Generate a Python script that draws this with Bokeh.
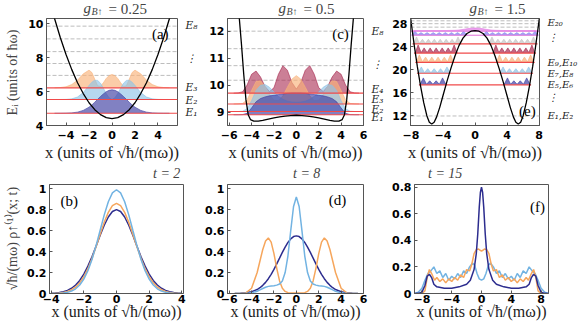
import math
from bokeh.plotting import figure
from bokeh.models import Range1d, FixedTicker, Label, Legend, LegendItem, LinearAxis
from bokeh.layouts import column, row
from bokeh.embed import file_html
from bokeh.resources import INLINE

# ------------------------------------------------------------------ data
# (a) g = 0.25
a_pot_x = [-6.0, -5.5, -5.0, -4.5, -4.0, -3.5, -3.0, -2.5, -2.0, -1.5, -1.0, -0.5, 0.0,
           0.5, 1.0, 1.5, 2.0, 2.5, 3.0, 3.5, 4.0, 4.5, 5.0, 5.5, 6.0]
a_pot_y = [12.9, 11.54, 10.3, 9.18, 8.18, 7.29, 6.52, 5.88, 5.34, 4.93, 4.64, 4.46, 4.4,
           4.46, 4.64, 4.93, 5.34, 5.88, 6.52, 7.29, 8.18, 9.18, 10.3, 11.54, 12.9]
a_levels = [4.72, 5.53, 6.22]
a_dashed = [6.95, 7.65, 8.35, 9.1, 9.85]
a_x = [-5.0, -4.5, -4.0, -3.5, -3.0, -2.5, -2.0, -1.75, -1.5, -1.25, -1.0, -0.75, -0.5, -0.25, 0.0,
       0.25, 0.5, 0.75, 1.0, 1.25, 1.5, 1.75, 2.0, 2.5, 3.0, 3.5, 4.0, 4.5, 5.0]
a_d1 = [0, 0.001, 0.006, 0.023, 0.067, 0.17, 0.36, 0.49, 0.65, 0.82, 0.99, 1.14, 1.27, 1.35, 1.38,
        1.35, 1.27, 1.14, 0.99, 0.82, 0.65, 0.49, 0.36, 0.17, 0.067, 0.023, 0.006, 0.001, 0]
a_d2 = [0, 0.001, 0.007, 0.038, 0.146, 0.41, 0.83, 1.02, 1.14, 1.12, 0.96, 0.67, 0.35, 0.097, 0,
        0.097, 0.35, 0.67, 0.96, 1.12, 1.14, 1.02, 0.83, 0.41, 0.146, 0.038, 0.007, 0.001, 0]
a_d3 = [0, 0.015, 0.06, 0.19, 0.45, 0.82, 1.04, 0.9, 0.5, 0.12, 0.08, 0.3, 0.55, 0.72, 0.78,
        0.72, 0.55, 0.3, 0.08, 0.12, 0.5, 0.9, 1.04, 0.82, 0.45, 0.19, 0.06, 0.015, 0]
a_lab_y = [9.89, 8.0, 6.24, 5.53, 4.77]
a_lab = ["E₈", "⋮", "E₃", "E₂", "E₁"]

# (c) g = 0.5
c_pot_x = [-5.3, -5.1, -4.9, -4.7, -4.5, -4.3, -4.1, -3.8, -3.4, -3.0, -2.5, -2.0, -1.5, -1.0, -0.5, 0.0,
           0.5, 1.0, 1.5, 2.0, 2.5, 3.0, 3.4, 3.8, 4.1, 4.3, 4.5, 4.7, 4.9, 5.1, 5.3]
c_pot_y = [13.5, 12.5, 11.5, 10.4, 9.45, 8.9, 8.72, 8.66, 8.66, 8.69, 8.74, 8.78, 8.82, 8.85, 8.87, 8.88,
           8.87, 8.85, 8.82, 8.78, 8.74, 8.69, 8.66, 8.66, 8.72, 8.9, 9.45, 10.4, 11.5, 12.5, 13.5]
c_levels = [8.9, 9.02, 9.3, 9.7]
c_dashed = [10.18, 10.72, 11.35, 12.0]
c_x = [-5.6, -5.2, -4.8, -4.4, -4.0, -3.6, -3.2, -2.8, -2.4, -2.0, -1.6, -1.2, -0.8, -0.4, 0.0,
       0.4, 0.8, 1.2, 1.6, 2.0, 2.4, 2.8, 3.2, 3.6, 4.0, 4.4, 4.8, 5.2, 5.6]
c_d1 = [0, 0, 0.005, 0.05, 0.25, 0.48, 0.6, 0.66, 0.7, 0.72, 0.75, 0.77, 0.79, 0.8, 0.8,
        0.8, 0.79, 0.77, 0.75, 0.72, 0.7, 0.66, 0.6, 0.48, 0.25, 0.05, 0.005, 0, 0]
c_d2 = [0, 0, 0.01, 0.1, 0.4, 0.78, 0.97, 1.0, 0.9, 0.72, 0.56, 0.45, 0.38, 0.35, 0.34,
        0.35, 0.38, 0.45, 0.56, 0.72, 0.9, 1.0, 0.97, 0.78, 0.4, 0.1, 0.01, 0, 0]
c_d3 = [0, 0.005, 0.02, 0.15, 0.5, 0.83, 0.86, 0.65, 0.35, 0.14, 0.12, 0.3, 0.62, 0.92, 1.05,
        0.92, 0.62, 0.3, 0.12, 0.14, 0.35, 0.65, 0.86, 0.83, 0.5, 0.15, 0.02, 0.005, 0]
c_d4 = [0, 0.01, 0.05, 0.3, 0.7, 0.82, 0.6, 0.25, 0.06, 0.2, 0.7, 1.02, 0.85, 0.4, 0.15,
        0.4, 0.85, 1.02, 0.7, 0.2, 0.06, 0.25, 0.6, 0.82, 0.7, 0.3, 0.05, 0.01, 0]
c_lab_y = [12.0, 10.8, 9.84, 9.48, 9.13, 8.8]
c_lab = ["E₈", "⋮", "E₄", "E₃", "E₂", "E₁"]

# (e) g = 1.5
e_pot_x = [-8.1, -8.0, -7.6, -7.2, -6.8, -6.4, -6.0, -5.7, -5.4, -5.1, -4.8, -4.4, -4.0, -3.5, -3.0, -2.5,
           -2.0, -1.5, -1.0, -0.5, 0.0, 0.5, 1.0, 1.5, 2.0, 2.5, 3.0, 3.5, 4.0, 4.4, 4.8, 5.1, 5.4, 5.7,
           6.0, 6.4, 6.8, 7.2, 7.6, 8.0, 8.1]
e_pot_y = [29.6, 28.6, 24.4, 20.6, 17.2, 14.3, 12.0, 10.9, 10.6, 10.9, 11.8, 13.5, 15.5, 18.0, 20.3, 22.4,
           24.2, 25.5, 26.3, 26.7, 26.8, 26.7, 26.3, 25.5, 24.2, 22.4, 20.3, 18.0, 15.5, 13.5, 11.8, 10.9,
           10.6, 10.9, 12.0, 14.3, 17.2, 20.6, 24.4, 28.6, 29.6]
e_dashed = [12.0, 15.0, 27.4, 28.0, 28.5]
e_levels = [17.4, 19.4, 21.3, 22.9, 24.5, 26.0, 26.7]
e_line_x0 = [-7.0, -7.25, -7.45, -7.6, -7.8, -7.9, -8.0]
e_line_x1 = [7.0, 7.25, 7.45, 7.6, 7.8, 7.9, 8.0]
# left-well density profiles (the right well is their mirror image)
e_b1_x = [-6.95, -6.85, -6.45, -6.05, -5.65, -5.25, -4.85, -4.45, -4.05, -3.65, -3.55]
e_b1_h = [0, 0.1, 1.2, 0.1, 0.7, 0.1, 0.7, 0.1, 1.2, 0.1, 0]
e_b2_x = [-7.2, -7.1, -6.7, -6.3, -5.9, -5.5, -5.1, -4.7, -4.3, -3.9, -3.5, -3.1, -3.0]
e_b2_h = [0, 0.1, 1.1, 0.1, 0.8, 0.1, 0.8, 0.1, 0.8, 0.1, 1.1, 0.1, 0]
e_b3_x = [-7.4, -7.3, -6.95, -6.56, -6.17, -5.78, -5.39, -5.0, -4.61, -4.22, -3.83, -3.44, -3.05, -2.7, -2.6]
e_b3_h = [0, 0.1, 1.3, 0.1, 0.9, 0.1, 0.9, 0.1, 0.9, 0.1, 0.9, 0.1, 1.3, 0.1, 0]
e_b4_x = [-7.55, -7.45, -7.1, -6.72, -6.35, -5.98, -5.6, -5.22, -4.85, -4.48, -4.1, -3.72, -3.35, -2.98,
          -2.6, -2.25, -2.15]
e_b4_h = [0, 0.1, 1.4, 0.1, 0.9, 0.1, 0.9, 0.1, 0.9, 0.1, 0.9, 0.1, 0.9, 0.1, 1.4, 0.1, 0]
e_b5_x = [-7.75, -7.65, -7.3, -6.93, -6.56, -6.19, -5.82, -5.45, -5.08, -4.71, -4.34, -3.97, -3.6, -3.23,
          -2.86, -2.49, -2.12, -1.75, -1.65]
e_b5_h = [0, 0.1, 1.2, 0.1, 0.8, 0.1, 0.8, 0.1, 0.8, 0.1, 0.8, 0.1, 0.8, 0.1, 0.8, 0.1, 1.2, 0.1, 0]
e_b6_x = [-7.9, -7.85, -7.5, -7.12, -6.74, -6.36, -5.98, -5.6, -5.22, -4.84, -4.46, -4.08, -3.7, -3.32,
          -2.94, -2.56, -2.18, -1.8, -1.42, -1.05, -0.95]
e_b6_h = [0, 0.1, 0.7, 0.1, 0.45, 0.1, 0.45, 0.1, 0.45, 0.1, 0.45, 0.1, 0.45, 0.1, 0.45, 0.1, 0.45, 0.1,
          0.7, 0.1, 0]
e_b7_x = [-7.9, -7.5, -6.5, -5.5, -4.5, -3.5, -2.5, -2.0, -1.5, -1.0, -0.5, 0.0]
e_b7_h = [0, 0.12, 0.1, 0.12, 0.1, 0.12, 0.15, 0.2, 0.3, 0.42, 0.52, 0.55]
e_lab_y = [28.55, 25.6, 21.29, 19.37, 17.53, 15.14, 12.0]
e_lab = ["E₂₀", "⋮", "E₉,E₁₀", "E₇,E₈", "E₅,E₆", "⋮", "E₁,E₂"]

# (b) g = 0.25 dynamics
b_x = [-4.0, -3.75, -3.5, -3.25, -3.0, -2.75, -2.5, -2.25, -2.0, -1.75, -1.5, -1.25, -1.0, -0.75, -0.5,
       -0.25, 0.0, 0.25, 0.5, 0.75, 1.0, 1.25, 1.5, 1.75, 2.0, 2.25, 2.5, 2.75, 3.0, 3.25, 3.5, 3.75, 4.0]
b_t2 = [0.002, 0.005, 0.009, 0.017, 0.03, 0.05, 0.081, 0.125, 0.185, 0.261, 0.351, 0.451, 0.555, 0.651,
        0.73, 0.782, 0.8, 0.782, 0.73, 0.651, 0.555, 0.451, 0.351, 0.261, 0.185, 0.125, 0.081, 0.05, 0.03,
        0.017, 0.009, 0.005, 0.002]
b_t8 = [0.001, 0.002, 0.005, 0.01, 0.02, 0.036, 0.062, 0.102, 0.16, 0.237, 0.334, 0.446, 0.565, 0.679,
        0.774, 0.838, 0.86, 0.838, 0.774, 0.679, 0.565, 0.446, 0.334, 0.237, 0.16, 0.102, 0.062, 0.036,
        0.02, 0.01, 0.005, 0.002, 0.001]
b_t15 = [0, 0.001, 0.002, 0.005, 0.011, 0.023, 0.045, 0.081, 0.137, 0.217, 0.325, 0.457, 0.603, 0.75,
         0.875, 0.96, 0.99, 0.96, 0.875, 0.75, 0.603, 0.457, 0.325, 0.217, 0.137, 0.081, 0.045, 0.023,
         0.011, 0.005, 0.002, 0.001, 0]

# (d) g = 0.5 dynamics
d_x = [-5.5, -5.0, -4.5, -4.0, -3.5, -3.25, -3.0, -2.75, -2.5, -2.25, -2.0, -1.75, -1.5, -1.25, -1.0,
       -0.75, -0.5, -0.25, 0.0, 0.25, 0.5, 0.75, 1.0, 1.25, 1.5, 1.75, 2.0, 2.25, 2.5, 2.75, 3.0, 3.25,
       3.5, 4.0, 4.5, 5.0, 5.5]
d_t2 = [0.001, 0.002, 0.007, 0.017, 0.038, 0.055, 0.078, 0.106, 0.141, 0.183, 0.23, 0.283, 0.337, 0.392,
        0.443, 0.487, 0.521, 0.543, 0.55, 0.543, 0.521, 0.487, 0.443, 0.392, 0.337, 0.283, 0.23, 0.183,
        0.141, 0.106, 0.078, 0.055, 0.038, 0.017, 0.007, 0.002, 0.001]
d_t8 = [0, 0, 0.006, 0.05, 0.2, 0.31, 0.42, 0.5, 0.53, 0.49, 0.38, 0.24, 0.12, 0.05, 0.02, 0.008, 0.005,
        0.004, 0.004, 0.004, 0.005, 0.008, 0.02, 0.05, 0.12, 0.24, 0.38, 0.49, 0.53, 0.5, 0.42, 0.31, 0.2,
        0.05, 0.006, 0, 0]
d_t15 = [0, 0, 0.001, 0.006, 0.022, 0.034, 0.048, 0.06, 0.068, 0.072, 0.075, 0.08, 0.09, 0.12, 0.2, 0.36,
         0.6, 0.83, 0.92, 0.83, 0.6, 0.36, 0.2, 0.12, 0.09, 0.08, 0.075, 0.072, 0.068, 0.06, 0.048, 0.034,
         0.022, 0.006, 0.001, 0, 0]

# (f) g = 1.5 dynamics
f_t2_x = [-9.0, -8.5, -8.0, -7.6, -7.3, -7.0, -6.7, -6.4, -6.0, -5.0, -4.0, -3.0, -2.0, -1.5, -1.0, -0.7,
          -0.5, -0.3, -0.15, 0.0, 0.15, 0.3, 0.5, 0.7, 1.0, 1.5, 2.0, 3.0, 4.0, 5.0, 6.0, 6.4, 6.7, 7.0,
          7.3, 7.6, 8.0, 8.5, 9.0]
f_t2 = [0, 0.001, 0.01, 0.06, 0.13, 0.145, 0.12, 0.07, 0.05, 0.04, 0.04, 0.05, 0.07, 0.1, 0.18, 0.3,
        0.45, 0.65, 0.76, 0.8, 0.76, 0.65, 0.45, 0.3, 0.18, 0.1, 0.07, 0.05, 0.04, 0.04, 0.05, 0.07, 0.12,
        0.145, 0.13, 0.06, 0.01, 0.001, 0]
f_t8_x = [-8.0, -7.6, -7.3, -7.0, -6.7, -6.3, -6.0, -5.6, -5.2, -4.8, -4.4, -4.0, -3.6, -3.2, -2.8, -2.4,
          -2.0, -1.6, -1.3, -1.0, -0.7, -0.4, -0.2, 0.0, 0.2, 0.4, 0.7, 1.0, 1.3, 1.6, 2.0, 2.4, 2.8, 3.2,
          3.6, 4.0, 4.4, 4.8, 5.2, 5.6, 6.0, 6.3, 6.7, 7.0, 7.3, 7.6, 8.0]
f_t8 = [0, 0.02, 0.12, 0.18, 0.15, 0.10, 0.12, 0.09, 0.11, 0.08, 0.11, 0.09, 0.12, 0.10, 0.14, 0.12,
        0.18, 0.17, 0.22, 0.30, 0.33, 0.335, 0.325, 0.32, 0.325, 0.335, 0.33, 0.30, 0.22, 0.17, 0.18, 0.12,
        0.14, 0.10, 0.12, 0.09, 0.11, 0.08, 0.11, 0.09, 0.12, 0.10, 0.15, 0.18, 0.12, 0.02, 0]
f_t15_x = [-9.0, -8.5, -8.0, -7.6, -7.2, -6.8, -6.4, -6.0, -5.6, -5.2, -4.8, -4.4, -4.0, -3.6, -3.2, -2.8,
           -2.4, -2.0, -1.6, -1.2, -0.9, -0.6, -0.3, 0.0, 0.3, 0.6, 0.9, 1.2, 1.6, 2.0, 2.4, 2.8, 3.2, 3.6,
           4.0, 4.4, 4.8, 5.2, 5.6, 6.0, 6.4, 6.8, 7.2, 7.6, 8.0, 8.5, 9.0]
f_t15 = [0, 0.01, 0.04, 0.10, 0.15, 0.17, 0.20, 0.15, 0.17, 0.12, 0.15, 0.10, 0.13, 0.11, 0.15, 0.12,
         0.17, 0.15, 0.20, 0.23, 0.21, 0.15, 0.11, 0.10, 0.11, 0.15, 0.21, 0.23, 0.20, 0.15, 0.17, 0.12,
         0.15, 0.11, 0.13, 0.10, 0.15, 0.12, 0.17, 0.15, 0.20, 0.17, 0.15, 0.10, 0.04, 0.01, 0]

# ------------------------------------------------------------------ styles
C_DB, C_OR, C_LB = "#2c2c8e", "#f6a65c", "#72b3e2"
F_DB, F_LB, F_OR, F_DR = "#3e3ea2", "#8fc3e6", "#f9b27a", "#a82a50"
F_GR, F_PB, F_MG = "#c4c4c4", "#7e7ef0", "#e27ae6"
RED = "#f04a4a"
FRAME = "#555555"
SERIF = "Liberation Serif"
XLABEL = "x (units of √ħ/(mω))"

# frame geometry in page pixels: (left, right, top, bottom), x range, y range
GEOM = {
    "a": ((46, 183, 18, 125), (-5.7, 5.7), (4.0, 10.3)),
    "c": ((227, 363, 18, 125), (-6.15, 6.0), (8.5, 12.47)),
    "e": ((410, 548, 18, 125), (-8.05, 8.05), (10.35, 28.9)),
    "b": ((47, 183, 184, 293), (-4.1, 4.1), (0.0, 1.04)),
    "d": ((227, 363, 184, 293), (-6.15, 6.0), (0.0, 1.04)),
    "f": ((414, 548, 184, 293), (-9.0, 9.0), (0.0, 0.82)),
}


def px2d(key, px, py):
    (l, r, t, b), (x0, x1), (y0, y1) = GEOM[key]
    return x0 + (px - l) / (r - l) * (x1 - x0), y0 + (b - py) / (b - t) * (y1 - y0)


def make_fig(key, w, h, bl, br, bt, bb, xticks, yticks, top_row):
    _, xr, yr = GEOM[key]
    p = figure(width=w, height=h, x_range=Range1d(*xr), y_range=Range1d(*yr),
               output_backend="svg", toolbar_location=None,
               min_border_left=bl, min_border_right=br, min_border_top=bt, min_border_bottom=bb)
    p.title.visible = False
    p.xgrid.visible = False
    p.ygrid.visible = False
    p.background_fill_color = "white"
    p.border_fill_color = "white"
    p.outline_line_color = FRAME
    for ax in (p.xaxis[0], p.yaxis[0]):
        ax.axis_line_color = FRAME
        ax.major_tick_line_color = FRAME
        ax.major_tick_in = 3
        ax.major_tick_out = 0
        ax.minor_tick_line_color = None
        ax.major_label_text_font = "DejaVu Sans"
        ax.major_label_text_font_style = "bold"
        ax.major_label_text_font_size = "11px"
        ax.major_label_text_color = "black"
        ax.major_label_standoff = 3
    xa = p.xaxis[0]
    xa.ticker = FixedTicker(ticks=xticks)
    p.yaxis[0].ticker = FixedTicker(ticks=yticks)
    xa.axis_label = XLABEL
    xa.axis_label_text_font = SERIF
    xa.axis_label_text_font_style = "normal"
    xa.axis_label_text_color = "#222222"
    if top_row:
        xa.major_label_standoff = 5
        xa.axis_label_standoff = 1
        xa.axis_label_text_font_size = "16.5px"
    else:
        xa.major_label_standoff = 1
        xa.axis_label_standoff = -3
        xa.axis_label_text_font_size = "16px"
    return p


def e_axis(p, ticks, labels, size):
    ax = LinearAxis(ticker=FixedTicker(ticks=ticks),
                    major_label_overrides=dict(zip(ticks, labels)),
                    axis_line_color=None, major_tick_line_color=None, minor_tick_line_color=None,
                    major_label_standoff=2, major_label_text_font="DejaVu Serif",
                    major_label_text_font_style="italic", major_label_text_font_size=size,
                    major_label_text_color="#222222")
    p.add_layout(ax, "right")


def lab_px(p, key, px, py, text, size="15px"):
    x, y = px2d(key, px, py)
    p.add_layout(Label(x=x, y=y, text=text, text_font=SERIF, text_font_size=size,
                       text_align="center", text_baseline="middle", text_color="black"))


def fill(p, xs, base, hs, color, alpha=0.65):
    top = [base + h for h in hs]
    p.varea(x=xs, y1=[base] * len(xs), y2=top, fill_color=color, fill_alpha=alpha)
    p.line(xs, top, line_color=color, line_alpha=0.9, line_width=0.7)


def mirror(xs):
    return [-v for v in reversed(xs)]


def hlines(p, key, ys, color, width=1.0, dash="solid"):
    _, xr, _ = GEOM[key]
    p.segment(x0=[xr[0]] * len(ys), x1=[xr[1]] * len(ys), y0=ys, y1=ys,
              line_color=color, line_width=width, line_dash=dash)


def strip(w, h, xr, yr):
    s = figure(width=w, height=h, x_range=Range1d(*xr), y_range=Range1d(*yr),
               output_backend="svg", toolbar_location=None,
               x_axis_location=None, y_axis_location=None, min_border=0)
    s.title.visible = False
    s.xgrid.visible = False
    s.ygrid.visible = False
    s.outline_line_color = None
    s.background_fill_color = "white"
    s.border_fill_color = "white"
    return s


# ------------------------------------------------------------------ (a)
pa = make_fig("a", 176, 149, 22, 17, 2, 40, [-4, -2, 0, 2, 4], [4, 6, 8, 10], True)
hlines(pa, "a", a_dashed, "#bdbdbd", 1.0, "4 2")
fill(pa, a_x, a_levels[2], a_d3, F_OR)
fill(pa, a_x, a_levels[1], a_d2, F_LB)
fill(pa, a_x, a_levels[0], a_d1, F_DB)
hlines(pa, "a", a_levels, RED, 1.2)
pa.line(a_pot_x, a_pot_y, line_color="black", line_width=1.3)
lab_px(pa, "a", 165, 33, "(a)")
e_axis(pa, a_lab_y, a_lab, "10.5px")

# ------------------------------------------------------------------ (c)
pc = make_fig("c", 189, 149, 27, 26, 2, 40, [-6, -4, -2, 0, 2, 4, 6], [9, 10, 11, 12], True)
hlines(pc, "c", c_dashed, "#bdbdbd", 1.0, "4 2")
fill(pc, c_x, c_levels[3], c_d4, F_DR, 0.6)
fill(pc, c_x, c_levels[2], c_d3, F_OR)
fill(pc, c_x, c_levels[1], c_d2, F_LB)
fill(pc, c_x, c_levels[0], c_d1, F_DB)
hlines(pc, "c", c_levels, RED, 1.1)
pc.line(c_pot_x, c_pot_y, line_color="black", line_width=1.3)
lab_px(pc, "c", 340, 33, "(c)")
e_axis(pc, c_lab_y, c_lab, "10.5px")

# ------------------------------------------------------------------ (e)
pe = make_fig("e", 191, 149, 21, 32, 2, 40, [-8, -4, 0, 4, 8], [12, 16, 20, 24, 28], True)
hlines(pe, "e", e_dashed, "#bdbdbd", 1.0, "4 2")
bands = [(e_b7_x, e_b7_h, e_levels[6], F_MG), (e_b6_x, e_b6_h, e_levels[5], F_PB),
         (e_b5_x, e_b5_h, e_levels[4], F_GR), (e_b4_x, e_b4_h, e_levels[3], F_DR),
         (e_b3_x, e_b3_h, e_levels[2], F_OR), (e_b2_x, e_b2_h, e_levels[1], F_LB),
         (e_b1_x, e_b1_h, e_levels[0], F_DB)]
for bx, bh, base, col in bands:
    fill(pe, bx, base, bh, col, 0.7)
    fill(pe, mirror(bx), base, list(reversed(bh)), col, 0.7)
pe.segment(x0=e_line_x0[:5], x1=e_line_x1[:5], y0=e_levels[:5], y1=e_levels[:5],
           line_color=RED, line_width=1.1)
pe.segment(x0=e_line_x0[5:], x1=e_line_x1[5:], y0=e_levels[5:], y1=e_levels[5:],
           line_color="#e070d8", line_width=1.0)
pe.line(e_pot_x, e_pot_y, line_color="black", line_width=1.3)
lab_px(pe, "e", 535, 110, "(e)")
e_axis(pe, e_lab_y, e_lab, "10px")

# ------------------------------------------------------------------ (b), (d), (f)
pb = make_fig("b", 176, 142, 23, 17, 2, 31, [-4, -2, 0, 2, 4], [0, 0.2, 0.4, 0.6, 0.8, 1.0], False)
pb.yaxis[0].major_label_overrides = {0: "0", 1: "1"}
pb.line(b_x, b_t2, line_color=C_DB, line_width=1.5)
pb.line(b_x, b_t8, line_color=C_OR, line_width=1.5)
pb.line(b_x, b_t15, line_color=C_LB, line_width=1.5)
lab_px(pb, "b", 67, 200, "(b)")

pd = make_fig("d", 189, 142, 27, 26, 2, 31, [-6, -4, -2, 0, 2, 4, 6], [0, 0.2, 0.4, 0.6, 0.8, 1.0], False)
pd.yaxis[0].major_label_overrides = {0: "0", 1: "1"}
pd.line(d_x, d_t2, line_color=C_DB, line_width=1.5)
pd.line(d_x, d_t8, line_color=C_OR, line_width=1.5)
pd.line(d_x, d_t15, line_color=C_LB, line_width=1.5)
lab_px(pd, "d", 337, 199, "(d)")

pf = make_fig("f", 191, 142, 25, 32, 2, 31, [-8, -4, 0, 4, 8], [0, 0.2, 0.4, 0.6, 0.8], False)
pf.yaxis[0].major_label_overrides = {0: "0"}
pf.line(f_t15_x, f_t15, line_color=C_LB, line_width=1.5)
pf.line(f_t8_x, f_t8, line_color=C_OR, line_width=1.5)
pf.line(f_t2_x, f_t2, line_color=C_DB, line_width=1.5)
lab_px(pf, "f", 537, 206, "(f)")

# ------------------------------------------------------------------ text strips (pixel coordinates)
# title strip: y measured upward from the strip's bottom edge (height 16)
title_strip = strip(556, 16, (24, 580), (0, 16))
for gx, val in [(83, "0.25"), (278, "0.5"), (469, "1.5")]:
    title_strip.add_layout(Label(x=gx, y=9, text="g", text_font=SERIF, text_font_size="15px",
                                 text_font_style="italic", text_baseline="middle"))
    title_strip.add_layout(Label(x=gx + 8, y=5, text="B↑", text_font=SERIF, text_font_size="10px",
                                 text_font_style="italic", text_baseline="middle"))
    title_strip.add_layout(Label(x=gx + 25, y=8, text="= " + val, text_font=SERIF,
                                 text_font_size="15px", text_baseline="middle"))

legend_strip = strip(556, 17, (24, 580), (182, 165))
leg_specs = [("t = 2", C_DB, 91), ("t = 8", C_OR, 231), ("t = 15", C_LB, 366)]
for text, col, lx in leg_specs:
    r = legend_strip.line(x=[], y=[], line_color=col, line_width=2)
    legend_strip.add_layout(Legend(items=[LegendItem(label=text, renderers=[r])], location=(lx, 0),
                                   padding=0, margin=0, spacing=0, border_line_color=None,
                                   background_fill_alpha=0, glyph_width=33, glyph_height=14,
                                   label_height=14, label_standoff=5, label_text_font=SERIF,
                                   label_text_font_style="italic", label_text_font_size="14px"))

left_strip = strip(24, 324, (0, 24), (324, 0))
left_strip.add_layout(Label(x=12, y=72, text="Eᵢ (units of ħω)", text_font=SERIF,
                            text_font_size="14px", angle=math.pi / 2, text_align="center",
                            text_baseline="middle"))
left_strip.add_layout(Label(x=12, y=238, text="√ħ/(mω) ρ↑⁽¹⁾(x; t)", text_font=SERIF,
                            text_font_size="14px", angle=math.pi / 2, text_align="center",
                            text_baseline="middle"))

layout = row(left_strip, column(title_strip, row(pa, pc, pe), legend_strip, row(pb, pd, pf)))
open("out.html", "w").write(file_html(layout, INLINE))
